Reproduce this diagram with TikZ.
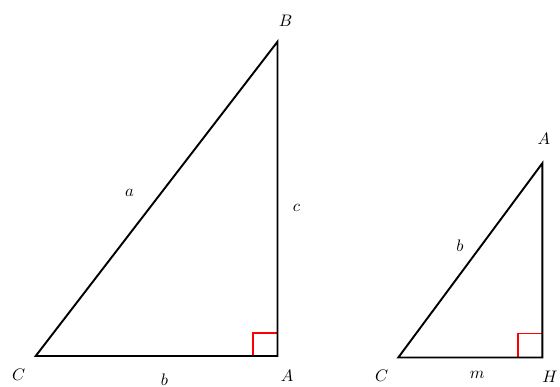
\documentclass[tikz,border=0pt]{standalone}
\begin{document}
\begin{tikzpicture}[x=0.6pt,y=-0.6pt,
  side/.style={line width=1.15pt, line join=miter},
  rightmark/.style={red, line width=1.15pt},
  lbl/.style={inner sep=0pt}]
\useasboundingbox (0,0) rectangle (560,387);
\clip (0,0) rectangle (560,387);
% big triangle
\coordinate (C1) at (35.7,356);
\coordinate (A1) at (277.5,356);
\coordinate (B1) at (277.5,41.7);
\draw[rightmark] (A1) ++(-24.5,0) -- ++(0,-23) -- ++(24.5,0);
\draw[side] (C1) -- (A1) -- (B1) -- cycle;
\node[lbl] (lB1) at (285.7,20.7) {$B$};
\node[lbl] (la) at (129.6,192.7) {$a$};
\node[lbl] (lc) at (296.4,208.3) {$c$};
\node[lbl] (lC1) at (18.6,374.5) {$C$};
\node[lbl] (lb1) at (164.5,379.5) {$b$};
\node[lbl] (lA1) at (287,376) {$A$};
% small triangle
\coordinate (C2) at (398.3,357.5);
\coordinate (H2) at (542.3,357.5);
\coordinate (A2) at (542.3,163.3);
\draw[rightmark] (H2) ++(-24,0) -- ++(0,-24) -- ++(24,0);
\draw[side] (C2) -- (H2) -- (A2) -- cycle;
\node[lbl] (lA2) at (543.8,139) {$A$};
\node[lbl] (lb2) at (460,246) {$b$};
\node[lbl] (lC2) at (381.7,376) {$C$};
\node[lbl] (lm) at (477.3,375) {$m$};
\node[lbl] (lH2) at (550,376.7) {$H$};
\node[lbl] (lh) at (564,264) {$h$};
\end{tikzpicture}
\end{document}
